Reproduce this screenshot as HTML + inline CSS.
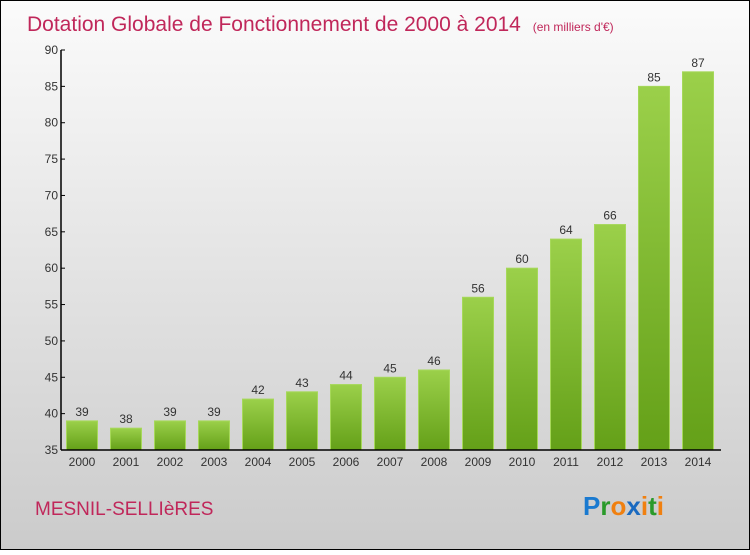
<!DOCTYPE html>
<html><head><meta charset="utf-8"><style>
html,body{margin:0;padding:0;}
body{width:750px;height:550px;overflow:hidden;font-family:"Liberation Sans",sans-serif;}
</style></head><body>
<svg width="750" height="550" xmlns="http://www.w3.org/2000/svg">
<defs>
<linearGradient id="bg" x1="0" y1="0" x2="0" y2="1"><stop offset="0" stop-color="#fbfbfb"/><stop offset="1" stop-color="#cbcbcb"/></linearGradient>
<linearGradient id="bar" x1="0" y1="0" x2="0" y2="1"><stop offset="0" stop-color="#9bd04a"/><stop offset="1" stop-color="#64a018"/></linearGradient>
</defs>
<rect x="0.5" y="0.5" width="749" height="549" fill="url(#bg)" stroke="#000"/>
<text x="27" y="31" font-size="21" fill="#c0275a">Dotation Globale de Fonctionnement de 2000 à 2014 <tspan font-size="12" dx="6">(en milliers d'€)</tspan></text>
<g id="plot"></g>
<text x="35" y="515" font-size="19" fill="#c0275a">MESNIL-SELLIèRES</text>
<text x="583" y="515" font-size="26" font-weight="bold"><tspan fill="#1a7ad0">P</tspan><tspan fill="#2a9a2a">r</tspan><tspan fill="#f08010">o</tspan><tspan fill="#1a6ac0">x</tspan><tspan fill="#f08010">i</tspan><tspan fill="#2a9a2a">t</tspan><tspan fill="#f08010">i</tspan></text>
</svg>
<script>
const categories=["2000","2001","2002","2003","2004","2005","2006","2007","2008","2009","2010","2011","2012","2013","2014"];
const values=[39,38,39,39,42,43,44,45,46,56,60,64,66,85,87];
const yTicks=[35,40,45,50,55,60,65,70,75,80,85,90];
const NS="http://www.w3.org/2000/svg";
const g=document.getElementById("plot");
const yMin=35,yMax=90,plotTop=50,plotBot=450,axX=61;
const yS=v=>plotBot-(v-yMin)/(yMax-yMin)*(plotBot-plotTop);
const xS=i=>82+i*44;
function mk(t,a,txt){const e=document.createElementNS(NS,t);for(const k in a)e.setAttribute(k,a[k]);if(txt!==undefined)e.textContent=txt;g.appendChild(e);return e;}
categories.forEach((c,i)=>{
  const v=values[i];
  const r=mk("rect",{x:xS(i)-15.5,y:yS(v),width:31,height:plotBot-yS(v),fill:"url(#bar)",stroke:"#a6d85a","stroke-width":1});
  
  
  const l=mk("text",{x:xS(i),y:yS(v)-5,"text-anchor":"middle","font-size":12,fill:"#333"},String(v));
  
  
  const xl=mk("text",{x:xS(i),y:plotBot+16,"text-anchor":"middle","font-size":12,fill:"#333"},c);
  
  
});
yTicks.forEach(t=>{
  const tk=mk("line",{x1:axX,x2:axX+4,y1:yS(t),y2:yS(t),stroke:"#000"});
  
  
  const tl=mk("text",{x:axX-3,y:yS(t)+4,"text-anchor":"end","font-size":12,fill:"#333"},String(t));
  
  
});
const ya=mk("line",{x1:axX,x2:axX,y1:plotTop,y2:plotBot,stroke:"#000","stroke-width":1.5});


const xa=mk("line",{x1:axX,x2:721,y1:plotBot,y2:plotBot,stroke:"#000","stroke-width":1.5});


</script>
</body></html>
